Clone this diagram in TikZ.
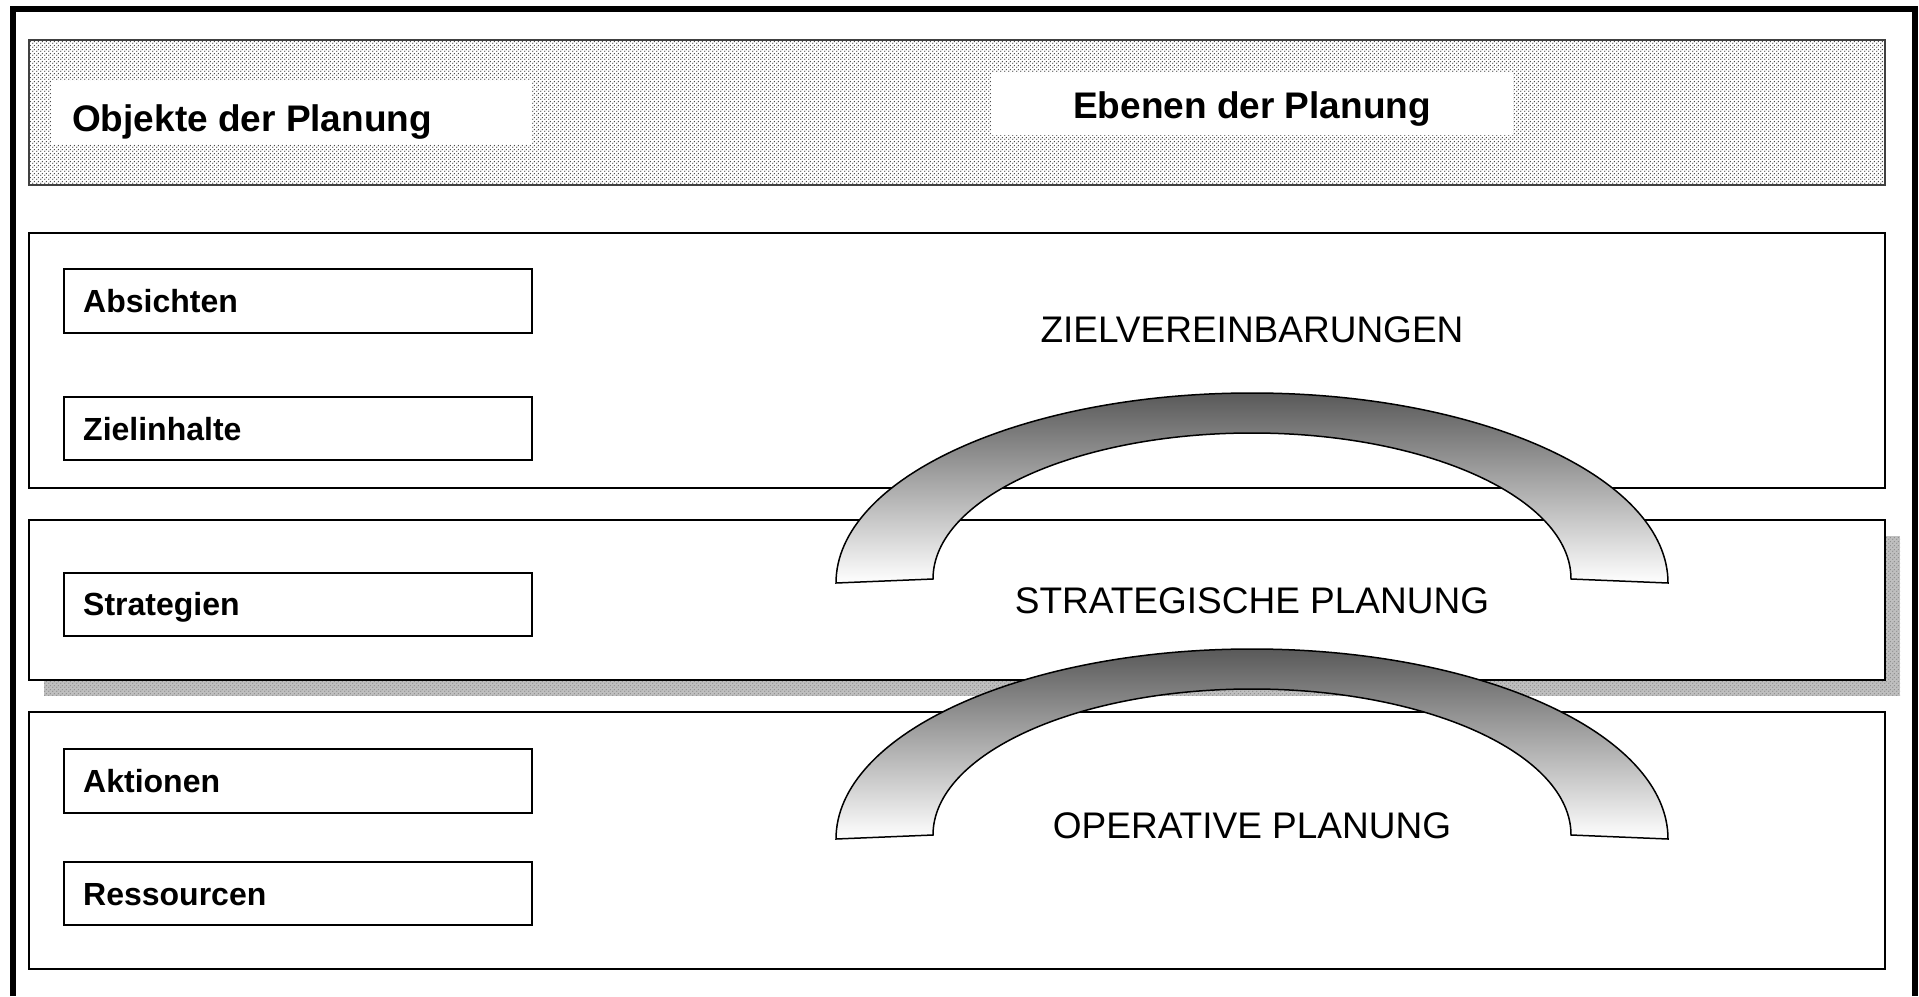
\documentclass[tikz,border=0pt]{standalone}
\usepackage{fontspec}
\setmainfont{Liberation Sans}
\usetikzlibrary{patterns}
\pgfdeclarepatternformonly{mydots}{\pgfpointorigin}{\pgfpoint{4pt}{4pt}}{\pgfpoint{4pt}{4pt}}{
  \pgfpathcircle{\pgfpoint{1pt}{1pt}}{0.85pt}
  \pgfpathcircle{\pgfpoint{3pt}{3pt}}{0.85pt}
  \pgfusepath{fill}}
\begin{document}
\begin{tikzpicture}[x=1pt,y=-1pt,
  band/.style={draw=black, line width=1.5pt, fill=white},
  objbox/.style={draw=black, line width=2pt, fill=white},
  objtext/.style={font=\fontsize{32}{38}\selectfont\bfseries, anchor=base west, inner sep=0pt},
  headtext/.style={font=\fontsize{37}{44}\selectfont\bfseries, inner sep=0pt},
  leveltext/.style={font=\fontsize{37}{44}\selectfont, anchor=base, inner sep=0pt},
  arch/.style={draw=black, line width=1.5pt, top color=black!65, bottom color=white},
]
\useasboundingbox (0,0) rectangle (1919,996);
% outer frame
\draw[line width=6pt] (13,996) -- (13,9) -- (1915,9) -- (1915,996);
% header
\draw[draw=black!75, line width=1.5pt, pattern=mydots, pattern color=black!70] (29,40) rectangle (1885,185);
\fill[white] (51,81) rectangle (532,144);
\fill[white] (991,73) rectangle (1513,135);
\node[headtext, anchor=base west] (obj) at (72,131) {Objekte der Planung};
\node[headtext, anchor=base] (ebe) at (1252,118) {Ebenen der Planung};
% bands
\draw[band] (29,233) rectangle (1885,488);
\fill[black!25] (44,536) rectangle (1900,696);
\fill[pattern=mydots, pattern color=black!45] (44,536) rectangle (1900,696);
\draw[band] (29,520) rectangle (1885,680);
\draw[band] (29,712) rectangle (1885,969);
% object boxes
\draw[objbox] (64,269) rectangle (532,333);
\draw[objbox] (64,397) rectangle (532,460);
\draw[objbox] (64,573) rectangle (532,636);
\draw[objbox] (64,749) rectangle (532,813);
\draw[objbox] (64,862) rectangle (532,925);
\node[objtext] (t1) at (83,312) {Absichten};
\node[objtext] (t2) at (83,440) {Zielinhalte};
\node[objtext] (t3) at (83,615) {Strategien};
\node[objtext] (t4) at (83,792) {Aktionen};
\node[objtext] (t5) at (83,905) {Ressourcen};
% arches
\draw[arch] (836,583) arc[start angle=180, end angle=360, x radius=416, y radius=190]
  -- (1571,579) arc[start angle=360, end angle=180, x radius=319, y radius=146] -- cycle;
\draw[arch] (836,839) arc[start angle=180, end angle=360, x radius=416, y radius=190]
  -- (1571,835) arc[start angle=360, end angle=180, x radius=319, y radius=146] -- cycle;
% level labels
\node[leveltext] (l1) at (1252,342) {ZIELVEREINBARUNGEN};
\node[leveltext] (l2) at (1252,613) {STRATEGISCHE PLANUNG};
\node[leveltext] (l3) at (1252,838) {OPERATIVE PLANUNG};
\end{tikzpicture}
\end{document}
